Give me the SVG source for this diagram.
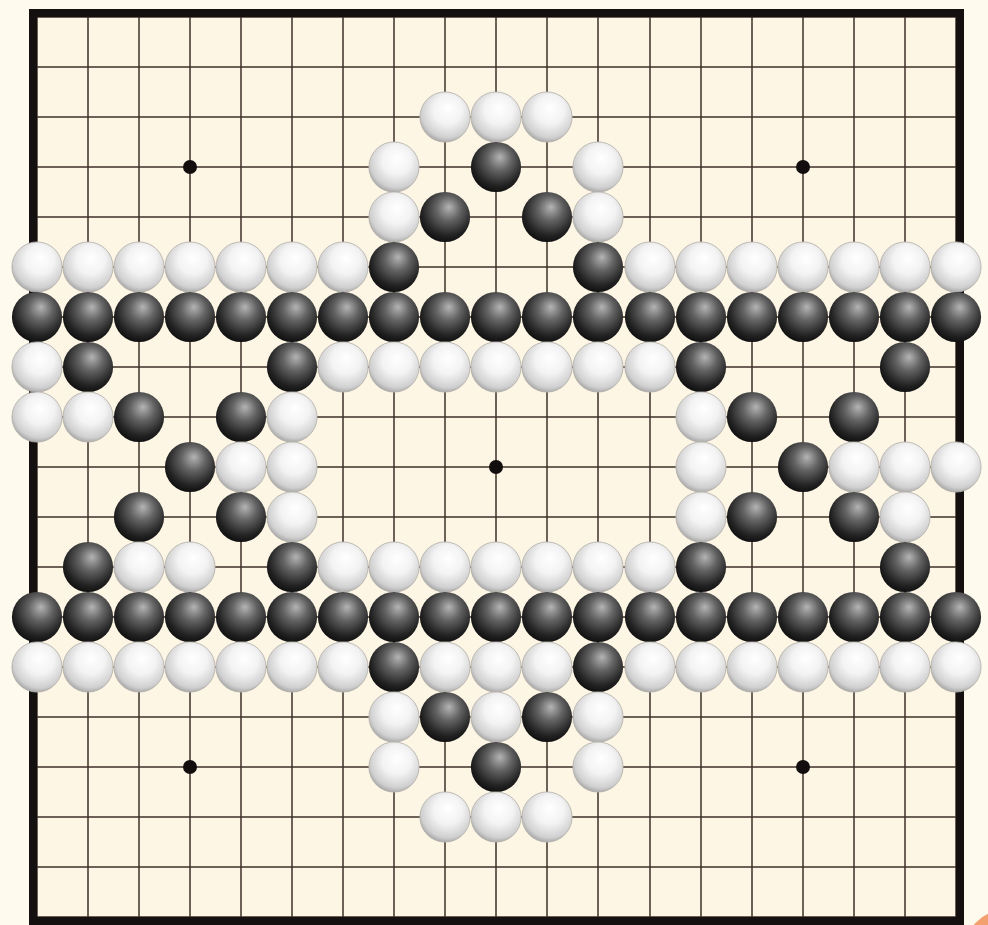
<svg xmlns="http://www.w3.org/2000/svg" xmlns:xlink="http://www.w3.org/1999/xlink" width="988" height="925" viewBox="0 0 988 925">
<defs>
<radialGradient id="gb" cx="0.55" cy="0.38" r="0.64" fx="0.58" fy="0.3">
<stop offset="0" stop-color="#b4b4b4"/>
<stop offset="0.38" stop-color="#636363"/>
<stop offset="0.8" stop-color="#222222"/>
<stop offset="1" stop-color="#0e0e0e"/>
</radialGradient>
<radialGradient id="gw" cx="0.55" cy="0.4" r="0.64" fx="0.56" fy="0.32">
<stop offset="0" stop-color="#ffffff"/>
<stop offset="0.45" stop-color="#f3f3f3"/>
<stop offset="0.82" stop-color="#d0d0d0"/>
<stop offset="1" stop-color="#9c9c9c"/>
</radialGradient>
<circle id="B" r="25.1" fill="url(#gb)"/>
<circle id="W" r="25.1" fill="url(#gw)" stroke="#b3afa8" stroke-width="0.8"/>
<style>
.g line{stroke:#3e3028;stroke-width:1.5}
.star{fill:#120e0e}
</style>
</defs>
<rect x="0" y="0" width="988" height="925" fill="#fefaee"/>
<rect x="33" y="13" width="927" height="908" fill="#fdf6e5"/>
<circle cx="1005" cy="950" r="40" fill="#f2a06e"/>
<g id="grid" class="g">
<line x1="37" y1="17" x2="37" y2="917"/><line x1="88" y1="17" x2="88" y2="917"/><line x1="139" y1="17" x2="139" y2="917"/><line x1="190" y1="17" x2="190" y2="917"/><line x1="241" y1="17" x2="241" y2="917"/><line x1="292" y1="17" x2="292" y2="917"/><line x1="343" y1="17" x2="343" y2="917"/><line x1="394" y1="17" x2="394" y2="917"/><line x1="445" y1="17" x2="445" y2="917"/><line x1="496" y1="17" x2="496" y2="917"/><line x1="547" y1="17" x2="547" y2="917"/><line x1="598" y1="17" x2="598" y2="917"/><line x1="650" y1="17" x2="650" y2="917"/><line x1="701" y1="17" x2="701" y2="917"/><line x1="752" y1="17" x2="752" y2="917"/><line x1="803" y1="17" x2="803" y2="917"/><line x1="854" y1="17" x2="854" y2="917"/><line x1="905" y1="17" x2="905" y2="917"/><line x1="956" y1="17" x2="956" y2="917"/>
<line x1="37" y1="17" x2="956" y2="17"/><line x1="37" y1="67" x2="956" y2="67"/><line x1="37" y1="117" x2="956" y2="117"/><line x1="37" y1="167" x2="956" y2="167"/><line x1="37" y1="217" x2="956" y2="217"/><line x1="37" y1="267" x2="956" y2="267"/><line x1="37" y1="317" x2="956" y2="317"/><line x1="37" y1="367" x2="956" y2="367"/><line x1="37" y1="417" x2="956" y2="417"/><line x1="37" y1="467" x2="956" y2="467"/><line x1="37" y1="517" x2="956" y2="517"/><line x1="37" y1="567" x2="956" y2="567"/><line x1="37" y1="617" x2="956" y2="617"/><line x1="37" y1="667" x2="956" y2="667"/><line x1="37" y1="717" x2="956" y2="717"/><line x1="37" y1="767" x2="956" y2="767"/><line x1="37" y1="817" x2="956" y2="817"/><line x1="37" y1="867" x2="956" y2="867"/><line x1="37" y1="917" x2="956" y2="917"/>
</g>
<rect id="border" x="33" y="13" width="927" height="908" fill="none" stroke="#151010" stroke-width="8"/>
<g id="stars">
<circle class="star" cx="190" cy="167" r="7"/><circle class="star" cx="803" cy="167" r="7"/><circle class="star" cx="496" cy="467" r="7"/><circle class="star" cx="190" cy="767" r="7"/><circle class="star" cx="803" cy="767" r="7"/>
</g>
<g id="stones">
<g id="row2"><use xlink:href="#W" x="445" y="117"/><use xlink:href="#W" x="496" y="117"/><use xlink:href="#W" x="547" y="117"/></g>
<g id="row3"><use xlink:href="#W" x="394" y="167"/><use xlink:href="#B" x="496" y="167"/><use xlink:href="#W" x="598" y="167"/></g>
<g id="row4"><use xlink:href="#W" x="394" y="217"/><use xlink:href="#B" x="445" y="217"/><use xlink:href="#B" x="547" y="217"/><use xlink:href="#W" x="598" y="217"/></g>
<g id="row5"><use xlink:href="#W" x="37" y="267"/><use xlink:href="#W" x="88" y="267"/><use xlink:href="#W" x="139" y="267"/><use xlink:href="#W" x="190" y="267"/><use xlink:href="#W" x="241" y="267"/><use xlink:href="#W" x="292" y="267"/><use xlink:href="#W" x="343" y="267"/><use xlink:href="#B" x="394" y="267"/><use xlink:href="#B" x="598" y="267"/><use xlink:href="#W" x="650" y="267"/><use xlink:href="#W" x="701" y="267"/><use xlink:href="#W" x="752" y="267"/><use xlink:href="#W" x="803" y="267"/><use xlink:href="#W" x="854" y="267"/><use xlink:href="#W" x="905" y="267"/><use xlink:href="#W" x="956" y="267"/></g>
<g id="row6"><use xlink:href="#B" x="37" y="317"/><use xlink:href="#B" x="88" y="317"/><use xlink:href="#B" x="139" y="317"/><use xlink:href="#B" x="190" y="317"/><use xlink:href="#B" x="241" y="317"/><use xlink:href="#B" x="292" y="317"/><use xlink:href="#B" x="343" y="317"/><use xlink:href="#B" x="394" y="317"/><use xlink:href="#B" x="445" y="317"/><use xlink:href="#B" x="496" y="317"/><use xlink:href="#B" x="547" y="317"/><use xlink:href="#B" x="598" y="317"/><use xlink:href="#B" x="650" y="317"/><use xlink:href="#B" x="701" y="317"/><use xlink:href="#B" x="752" y="317"/><use xlink:href="#B" x="803" y="317"/><use xlink:href="#B" x="854" y="317"/><use xlink:href="#B" x="905" y="317"/><use xlink:href="#B" x="956" y="317"/></g>
<g id="row7"><use xlink:href="#W" x="37" y="367"/><use xlink:href="#B" x="88" y="367"/><use xlink:href="#B" x="292" y="367"/><use xlink:href="#W" x="343" y="367"/><use xlink:href="#W" x="394" y="367"/><use xlink:href="#W" x="445" y="367"/><use xlink:href="#W" x="496" y="367"/><use xlink:href="#W" x="547" y="367"/><use xlink:href="#W" x="598" y="367"/><use xlink:href="#W" x="650" y="367"/><use xlink:href="#B" x="701" y="367"/><use xlink:href="#B" x="905" y="367"/></g>
<g id="row8"><use xlink:href="#W" x="37" y="417"/><use xlink:href="#W" x="88" y="417"/><use xlink:href="#B" x="139" y="417"/><use xlink:href="#B" x="241" y="417"/><use xlink:href="#W" x="292" y="417"/><use xlink:href="#W" x="701" y="417"/><use xlink:href="#B" x="752" y="417"/><use xlink:href="#B" x="854" y="417"/></g>
<g id="row9"><use xlink:href="#B" x="190" y="467"/><use xlink:href="#W" x="241" y="467"/><use xlink:href="#W" x="292" y="467"/><use xlink:href="#W" x="701" y="467"/><use xlink:href="#B" x="803" y="467"/><use xlink:href="#W" x="854" y="467"/><use xlink:href="#W" x="905" y="467"/><use xlink:href="#W" x="956" y="467"/></g>
<g id="row10"><use xlink:href="#B" x="139" y="517"/><use xlink:href="#B" x="241" y="517"/><use xlink:href="#W" x="292" y="517"/><use xlink:href="#W" x="701" y="517"/><use xlink:href="#B" x="752" y="517"/><use xlink:href="#B" x="854" y="517"/><use xlink:href="#W" x="905" y="517"/></g>
<g id="row11"><use xlink:href="#B" x="88" y="567"/><use xlink:href="#W" x="139" y="567"/><use xlink:href="#W" x="190" y="567"/><use xlink:href="#B" x="292" y="567"/><use xlink:href="#W" x="343" y="567"/><use xlink:href="#W" x="394" y="567"/><use xlink:href="#W" x="445" y="567"/><use xlink:href="#W" x="496" y="567"/><use xlink:href="#W" x="547" y="567"/><use xlink:href="#W" x="598" y="567"/><use xlink:href="#W" x="650" y="567"/><use xlink:href="#B" x="701" y="567"/><use xlink:href="#B" x="905" y="567"/></g>
<g id="row12"><use xlink:href="#B" x="37" y="617"/><use xlink:href="#B" x="88" y="617"/><use xlink:href="#B" x="139" y="617"/><use xlink:href="#B" x="190" y="617"/><use xlink:href="#B" x="241" y="617"/><use xlink:href="#B" x="292" y="617"/><use xlink:href="#B" x="343" y="617"/><use xlink:href="#B" x="394" y="617"/><use xlink:href="#B" x="445" y="617"/><use xlink:href="#B" x="496" y="617"/><use xlink:href="#B" x="547" y="617"/><use xlink:href="#B" x="598" y="617"/><use xlink:href="#B" x="650" y="617"/><use xlink:href="#B" x="701" y="617"/><use xlink:href="#B" x="752" y="617"/><use xlink:href="#B" x="803" y="617"/><use xlink:href="#B" x="854" y="617"/><use xlink:href="#B" x="905" y="617"/><use xlink:href="#B" x="956" y="617"/></g>
<g id="row13"><use xlink:href="#W" x="37" y="667"/><use xlink:href="#W" x="88" y="667"/><use xlink:href="#W" x="139" y="667"/><use xlink:href="#W" x="190" y="667"/><use xlink:href="#W" x="241" y="667"/><use xlink:href="#W" x="292" y="667"/><use xlink:href="#W" x="343" y="667"/><use xlink:href="#B" x="394" y="667"/><use xlink:href="#W" x="445" y="667"/><use xlink:href="#W" x="496" y="667"/><use xlink:href="#W" x="547" y="667"/><use xlink:href="#B" x="598" y="667"/><use xlink:href="#W" x="650" y="667"/><use xlink:href="#W" x="701" y="667"/><use xlink:href="#W" x="752" y="667"/><use xlink:href="#W" x="803" y="667"/><use xlink:href="#W" x="854" y="667"/><use xlink:href="#W" x="905" y="667"/><use xlink:href="#W" x="956" y="667"/></g>
<g id="row14"><use xlink:href="#W" x="394" y="717"/><use xlink:href="#B" x="445" y="717"/><use xlink:href="#W" x="496" y="717"/><use xlink:href="#B" x="547" y="717"/><use xlink:href="#W" x="598" y="717"/></g>
<g id="row15"><use xlink:href="#W" x="394" y="767"/><use xlink:href="#B" x="496" y="767"/><use xlink:href="#W" x="598" y="767"/></g>
<g id="row16"><use xlink:href="#W" x="445" y="817"/><use xlink:href="#W" x="496" y="817"/><use xlink:href="#W" x="547" y="817"/></g>
</g>
</svg>
